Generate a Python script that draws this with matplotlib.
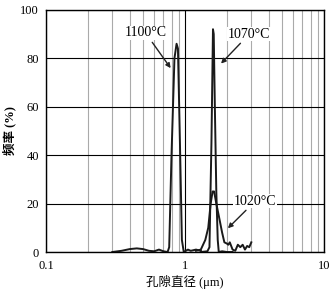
import matplotlib.pyplot as plt

plt.rcParams['font.family'] = ['Liberation Serif', 'Noto Sans CJK SC']
plt.rcParams['font.size'] = 9

# 孔隙直径 (um) vs 频率 (%)
x_1100 = [0.30, 0.35, 0.40, 0.45, 0.50, 0.55, 0.60, 0.65, 0.70, 0.75, 0.77, 0.80, 0.84, 0.87, 0.89, 0.92, 0.95, 0.98, 1.05, 1.10, 1.20, 1.30]
y_1100 = [0.0, 0.5, 1.2, 1.5, 1.2, 0.5, 0.3, 1.0, 0.3, 0.0, 2.0, 40.0, 80.0, 86.0, 84.0, 45.0, 5.0, 0.0, 1.0, 0.5, 1.0, 0.5]

x_1070 = [1.30, 1.45, 1.50, 1.55, 1.59, 1.61, 1.64, 1.68, 1.72, 1.75, 1.85, 2.00, 2.20]
y_1070 = [0.0, 0.3, 2.0, 45.0, 92.0, 90.0, 60.0, 25.0, 5.0, 0.0, 0.3, 0.0, 0.0]

x_1020 = [1.20, 1.30, 1.40, 1.47, 1.53, 1.58, 1.62, 1.68, 1.75, 1.85, 1.92, 2.00, 2.05, 2.10, 2.20, 2.30, 2.40, 2.50, 2.60, 2.70, 2.80, 2.90, 3.00]
y_1020 = [0.5, 1.0, 5.0, 10.0, 20.0, 25.0, 25.0, 20.0, 15.0, 8.0, 4.0, 3.5, 3.0, 4.0, 1.0, 0.5, 3.0, 2.0, 3.0, 1.0, 2.5, 2.0, 4.0]

fig = plt.figure(figsize=(3.33, 2.9), dpi=100)
ax = fig.add_axes([0.138, 0.131, 0.835, 0.835])

for xs, ys in [(x_1100, y_1100), (x_1070, y_1070), (x_1020, y_1020)]:
    ax.plot(xs, ys, color='#1a1a1a', lw=1.4)

ax.set_xscale('log')
ax.set_xlim(0.1, 10)
ax.set_ylim(0, 100)
ax.set_yticks([0, 20, 40, 60, 80, 100])
ax.set_xticks([0.1, 1, 10])
ax.set_xticklabels(['0.1', '1', '10'])
ax.grid(which='major', color='black', lw=0.8)
ax.grid(which='minor', axis='x', color='#aaaaaa', lw=0.8)
ax.tick_params(which='both', length=0)
ax.tick_params(axis='x', pad=6)
ax.tick_params(axis='y', pad=5)
for s in ax.spines.values():
    s.set_linewidth(1.0)

arrow = dict(arrowstyle='-|>', color='#222222', lw=1.0, mutation_scale=7)
box = dict(facecolor='white', edgecolor='none', pad=0.5)
ax.annotate('1100°C', xy=(0.81, 75), xytext=(0.52, 90.5), ha='center', va='center',
            fontsize=10, arrowprops=arrow, bbox=box)
ax.annotate('1070°C', xy=(1.76, 77), xytext=(2.9, 90), ha='center', va='center',
            fontsize=10, arrowprops=arrow, bbox=box)
ax.annotate('1020°C', xy=(1.97, 9), xytext=(3.2, 21), ha='center', va='center',
            fontsize=10, arrowprops=arrow, bbox=box)

ax.set_xlabel('孔隙直径 (μm)', labelpad=2)
ax.set_ylabel('频率 (%)', labelpad=3, fontweight='bold')

fig.savefig('out.png', dpi=100)
